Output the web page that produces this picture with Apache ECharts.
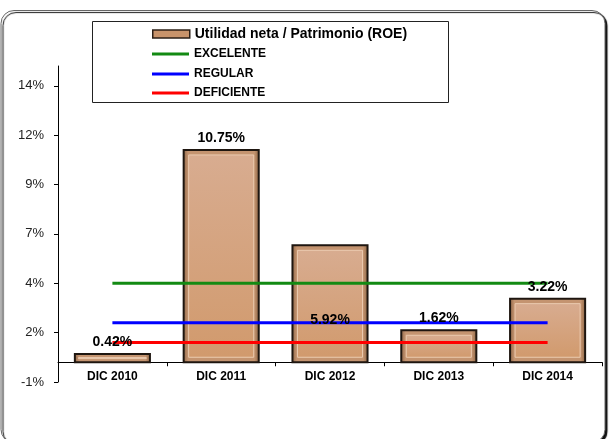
<!DOCTYPE html>
<html>
<head>
<meta charset="utf-8">
<script src="https://cdn.jsdelivr.net/npm/echarts@6/dist/echarts.min.js"></script>
<style>html,body{margin:0;padding:0;background:#fff;}#c{width:609px;height:439px;}</style>
</head>
<body>
<div id="c"></div>
<script>
const categories = ['DIC 2010', 'DIC 2011', 'DIC 2012', 'DIC 2013', 'DIC 2014'];
const roe = [0.42, 10.75, 5.92, 1.62, 3.22];
const excelente = [4, 4, 4, 4, 4];
const regular = [2, 2, 2, 2, 2];
const deficiente = [1, 1, 1, 1, 1];
const yTicks = [-1, 1.5, 4, 6.5, 9, 11.5, 14];
const yTickLabels = ['-1%', '2%', '4%', '7%', '9%', '12%', '14%'];
const seriesNames = ['Utilidad neta / Patrimonio (ROE)', 'EXCELENTE', 'REGULAR', 'DEFICIENTE'];
const lineColors = ['#138a13', '#0000ff', '#ff0000'];

const FF = '"Liberation Sans", Arial, sans-serif';
const chart = echarts.init(document.getElementById('c'), null, {renderer: 'canvas'});

function renderBar(params, api) {
  const i = api.value(0), v = api.value(1);
  const top = api.coord([i, v]);
  const base = api.coord([i, 0]);
  const w = api.size([1, 0])[0] * 0.69;
  const x = top[0] - w / 2;
  const y = Math.min(top[1], base[1]);
  const h = Math.abs(base[1] - top[1]);
  const ins = Math.min(5, h / 2 - 0.5);
  return {
    type: 'group',
    children: [
      {type: 'rect', shape: {x: x, y: y, width: w, height: h},
       style: {fill: {type: 'linear', x: 0, y: 0, x2: 1, y2: 0, colorStops: [
         {offset: 0, color: '#8a6244'}, {offset: 0.07, color: '#c49470'}, {offset: 0.93, color: '#c49470'}, {offset: 1, color: '#86603f'}]},
         stroke: '#1e1610', lineWidth: 2}},
      {type: 'rect', shape: {x: x + ins, y: y + ins, width: Math.max(w - 2 * ins, 0), height: Math.max(h - 2 * ins, 0)},
       style: {fill: {type: 'linear', x: 0, y: 0, x2: 0, y2: 1, colorStops: [
         {offset: 0, color: '#d8ac90'}, {offset: 1, color: '#d19a6d'}]},
         stroke: '#ebcbb0', lineWidth: 1}}
    ]
  };
}

const labelData = roe.map((v, i) => i === 2 ? {value: v, label: {offset: [0, 87]}} : v);

const legendText = {fontFamily: FF, fontWeight: 'bold', color: '#000'};
function mkLegend(k, top) {
  return {
    data: [{name: seriesNames[k], icon: 'rect', itemStyle: {color: lineColors[k - 1], borderWidth: 0}}],
    left: 152, top: top, padding: 0, itemWidth: 37, itemHeight: 3,
    selectedMode: false,
    textStyle: Object.assign({fontSize: 12, lineHeight: 14}, legendText)
  };
}

const option = {
  animation: false,
  backgroundColor: 'transparent',
  graphic: [
    {type: 'rect', z: -10, shape: {x: 1, y: 10.5, width: 604, height: 432, r: 13},
     style: {fill: '#fff', stroke: '#666', lineWidth: 1, shadowColor: 'rgba(0,0,0,0.95)', shadowOffsetX: 2, shadowOffsetY: 2, shadowBlur: 1}},
    {type: 'rect', z: -5, shape: {x: 92.5, y: 21.5, width: 356, height: 81},
     style: {fill: '#fff', stroke: '#222', lineWidth: 1}}
  ],
  legend: [
    {data: [{name: seriesNames[0], icon: 'rect', itemStyle: {color: '#c8936a', borderColor: '#2b1f16', borderWidth: 1.5}}],
     left: 152, top: 27, padding: 0, itemWidth: 37, itemHeight: 8, selectedMode: false,
     textStyle: Object.assign({fontSize: 14, lineHeight: 14}, legendText)},
    mkLegend(1, 47),
    mkLegend(2, 67),
    mkLegend(3, 86)
  ],
  grid: {left: 58, right: 7, top: 66, bottom: 57},
  xAxis: {
    type: 'category', data: categories,
    axisLine: {onZero: true, lineStyle: {color: '#000', width: 1}},
    axisTick: {show: true, length: 4, lineStyle: {color: '#000'}},
    axisLabel: {margin: -11, fontFamily: FF, fontSize: 12, fontWeight: 'bold', color: '#000'},
    splitLine: {show: false}
  },
  yAxis: {
    type: 'value', min: -1, max: 15,
    axisLine: {show: true, lineStyle: {color: '#000', width: 1}},
    axisTick: {show: true, length: 4, customValues: yTicks, lineStyle: {color: '#000'}},
    axisLabel: {customValues: yTicks, margin: 14, fontFamily: FF, fontSize: 13, color: '#222',
      formatter: v => { const k = yTicks.findIndex(t => Math.abs(t - v) < 1e-9); return k >= 0 ? yTickLabels[k] : ''; }},
    splitLine: {show: false}
  },
  series: [
    {name: seriesNames[0], type: 'custom', z: 1, renderItem: renderBar,
     itemStyle: {color: '#c8936a'},
     encode: {x: 0, y: 1}, data: roe.map((v, i) => [i, v])},
    {name: seriesNames[1], type: 'line', z: 2, symbol: 'none', data: excelente,
     lineStyle: {color: lineColors[0], width: 3}, itemStyle: {color: lineColors[0]}},
    {name: seriesNames[2], type: 'line', z: 2, symbol: 'none', data: regular,
     lineStyle: {color: lineColors[1], width: 3}, itemStyle: {color: lineColors[1]}},
    {name: seriesNames[3], type: 'line', z: 2, symbol: 'none', data: deficiente,
     lineStyle: {color: lineColors[2], width: 3}, itemStyle: {color: lineColors[2]}},
    {name: 'labels', type: 'bar', z: 5, barWidth: '69%', data: labelData,
     itemStyle: {color: 'rgba(0,0,0,0)'}, silent: true,
     label: {show: true, position: 'top', distance: 5, fontFamily: FF, fontSize: 14, fontWeight: 'bold', color: '#000',
       formatter: p => p.value.toFixed(2) + '%'}}
  ]
};
chart.setOption(option);
</script>
</body>
</html>
